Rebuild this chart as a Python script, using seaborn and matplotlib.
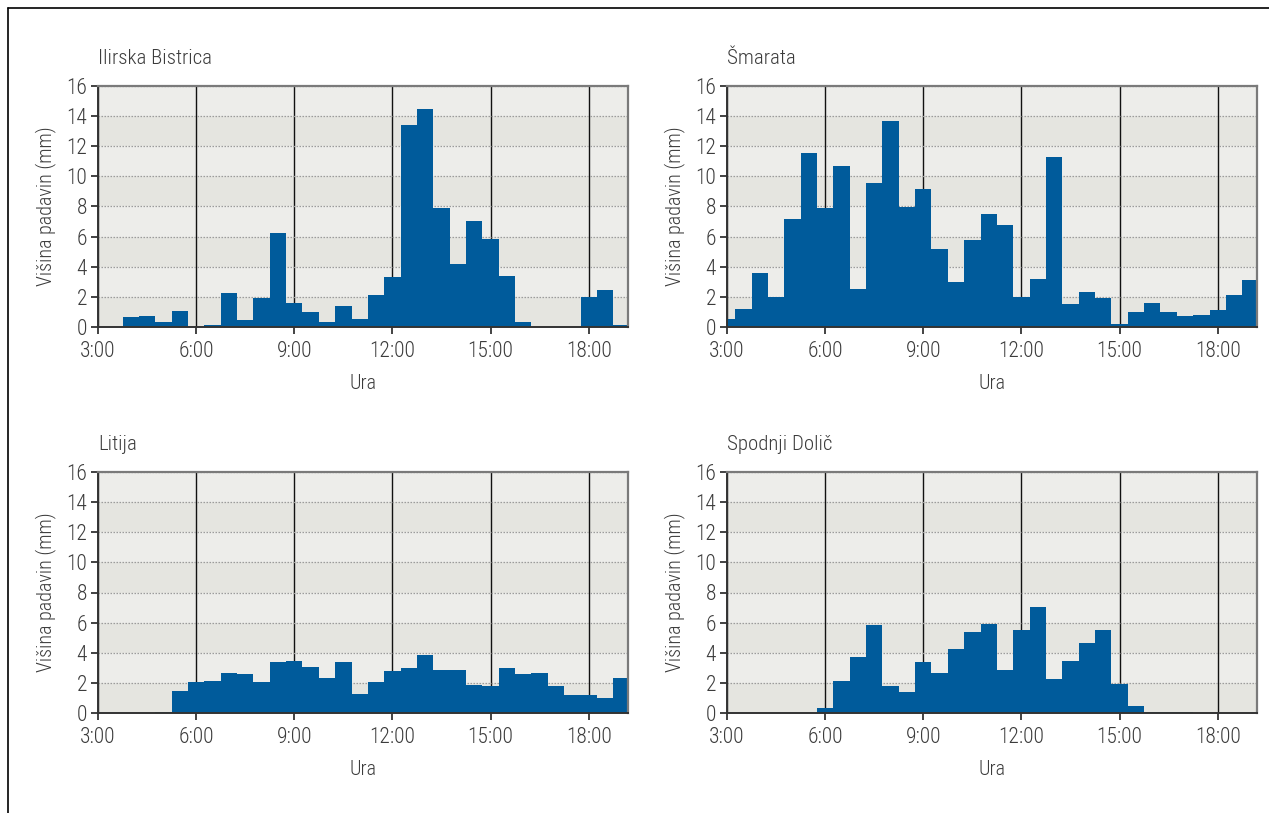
import numpy as np
import pandas as pd
import matplotlib
matplotlib.use("Agg")
import matplotlib.pyplot as plt
from matplotlib.lines import Line2D
import seaborn as sns

# Half-hourly precipitation (mm), bars centred on each half hour from 3:00 to 19:00
hours = [3.0, 3.5, 4.0, 4.5, 5.0, 5.5, 6.0, 6.5, 7.0, 7.5, 8.0, 8.5, 9.0, 9.5,
         10.0, 10.5, 11.0, 11.5, 12.0, 12.5, 13.0, 13.5, 14.0, 14.5, 15.0, 15.5,
         16.0, 16.5, 17.0, 17.5, 18.0, 18.5, 19.0]

ilirska_bistrica = [0, 0, 0.64, 0.71, 0.31, 1.04, 0, 0.11, 2.24, 0.44, 1.93, 6.24,
                    1.58, 0.98, 0.31, 1.38, 0.51, 2.11, 3.31, 13.43, 14.49, 7.90,
                    4.17, 7.04, 5.84, 3.37, 0.31, 0, 0, 0, 1.98, 2.44, 0.11]

smarata = [0.51, 1.18, 3.57, 2.00, 7.17, 11.56, 7.92, 10.70, 2.51, 9.57, 13.69,
           7.97, 9.17, 5.17, 2.97, 5.77, 7.50, 6.77, 2.00, 3.17, 11.30, 1.51, 2.31,
           1.91, 0.18, 0.98, 1.58, 0.98, 0.71, 0.78, 1.11, 2.11, 3.11]

litija = [0, 0, 0, 0, 0.07, 1.49, 2.08, 2.15, 2.68, 2.62, 2.08, 3.41, 3.48, 3.08,
          2.35, 3.41, 1.29, 2.08, 2.82, 3.02, 3.88, 2.88, 2.88, 1.88, 1.82, 3.02,
          2.62, 2.68, 1.82, 1.22, 1.22, 1.02, 2.35]

spodnji_dolic = [0, 0, 0, 0, 0, 0, 0.35, 2.15, 3.75, 5.81, 1.82, 1.42, 3.41, 2.68,
                 4.28, 5.41, 5.88, 2.88, 5.54, 7.07, 2.28, 3.48, 4.68, 5.48, 1.95,
                 0.49, 0.07, 0.07, 0.07, 0, 0, 0, 0]

stations = ["Ilirska Bistrica", "Šmarata", "Litija", "Spodnji Dolič"]
series = [ilirska_bistrica, smarata, litija, spodnji_dolic]

tick_hours = [3, 6, 9, 12, 15, 18]
tick_labels = ["3:00", "6:00", "9:00", "12:00", "15:00", "18:00"]
y_ticks = [0, 2, 4, 6, 8, 10, 12, 14, 16]

df = pd.concat(
    [pd.DataFrame({"postaja": name, "ura": hours, "mm": vals})
     for name, vals in zip(stations, series)],
    ignore_index=True,
)

sns.set_style("white")
plt.rcParams["font.family"] = ["Roboto Condensed", "Liberation Sans Narrow",
                               "Roboto", "DejaVu Sans"]
plt.rcParams["font.weight"] = "light"
text_col = "#3c3c3c"
plt.rcParams["text.color"] = text_col
plt.rcParams["axes.labelcolor"] = text_col
plt.rcParams["axes.labelweight"] = "light"
plt.rcParams["axes.titleweight"] = "light"
plt.rcParams["xtick.color"] = "#222222"
plt.rcParams["ytick.color"] = "#222222"
plt.rcParams["xtick.labelcolor"] = text_col
plt.rcParams["ytick.labelcolor"] = text_col

W, H = 1269, 813
fig = plt.figure(figsize=(W / 100, H / 100), dpi=100)
fig.patch.set_facecolor("white")

# axes boxes in pixels: (left, top, right, bottom)
boxes = [(98, 86, 628, 327), (727, 86, 1257, 327),
         (98, 472, 628, 713), (727, 472, 1257, 713)]

bar_color = "#005b9b"
band_dark = "#e5e5e0"
band_light = "#ededea"

for name, (l, t, r, b) in zip(stations, boxes):
    ax = fig.add_axes([l / W, 1 - b / H, (r - l) / W, (b - t) / H])
    ax.set_facecolor(band_light)
    for k in range(8):
        ax.axhspan(2 * k, 2 * k + 2, color=band_dark if k % 2 == 0 else band_light,
                   zorder=0, lw=0)

    sub = df[df["postaja"] == name]
    sns.histplot(data=sub, x="ura", weights="mm", binwidth=0.5,
                 binrange=(2.75, 19.25), color=bar_color, alpha=1,
                 linewidth=0, edgecolor="none", ax=ax, zorder=2)

    ax.set_xlim(3, 19.2)
    ax.set_ylim(0, 16)
    ax.set_xticks(tick_hours)
    ax.set_xticklabels(tick_labels)
    ax.set_yticks(y_ticks)
    ax.set_axisbelow(True)
    ax.grid(axis="x", color="#111111", lw=1.0, ls="-", zorder=0.5)
    ax.grid(axis="y", color="#9c9c9c", lw=0.9, ls=(0, (1.2, 1.2)), zorder=0.5)

    ax.tick_params(axis="both", which="major", direction="out", length=5,
                   width=1.2, labelsize=15.5, bottom=True, left=True)
    ax.tick_params(axis="x", pad=5)
    ax.tick_params(axis="y", pad=3)
    for side in ("left", "bottom"):
        ax.spines[side].set_color("#333333")
        ax.spines[side].set_linewidth(1.4)
    for side in ("top", "right"):
        ax.spines[side].set_visible(True)
        ax.spines[side].set_color("#7a7a7a")
        ax.spines[side].set_linewidth(1.6)

    ax.set_xlabel("Ura", fontsize=14.5, labelpad=9)
    ax.set_ylabel("Višina padavin (mm)", fontsize=14.5, labelpad=7)
    ax.set_title(name, loc="left", fontsize=15, pad=16, color=text_col)

# thin frame along the top and left edges of the figure
fig.add_artist(Line2D([8 / W, 1], [1 - 8 / H, 1 - 8 / H], color="black", lw=1.2,
                      transform=fig.transFigure))
fig.add_artist(Line2D([8 / W, 8 / W], [0, 1 - 8 / H], color="black", lw=1.2,
                      transform=fig.transFigure))

fig.savefig("out.png", dpi=100, facecolor="white")
